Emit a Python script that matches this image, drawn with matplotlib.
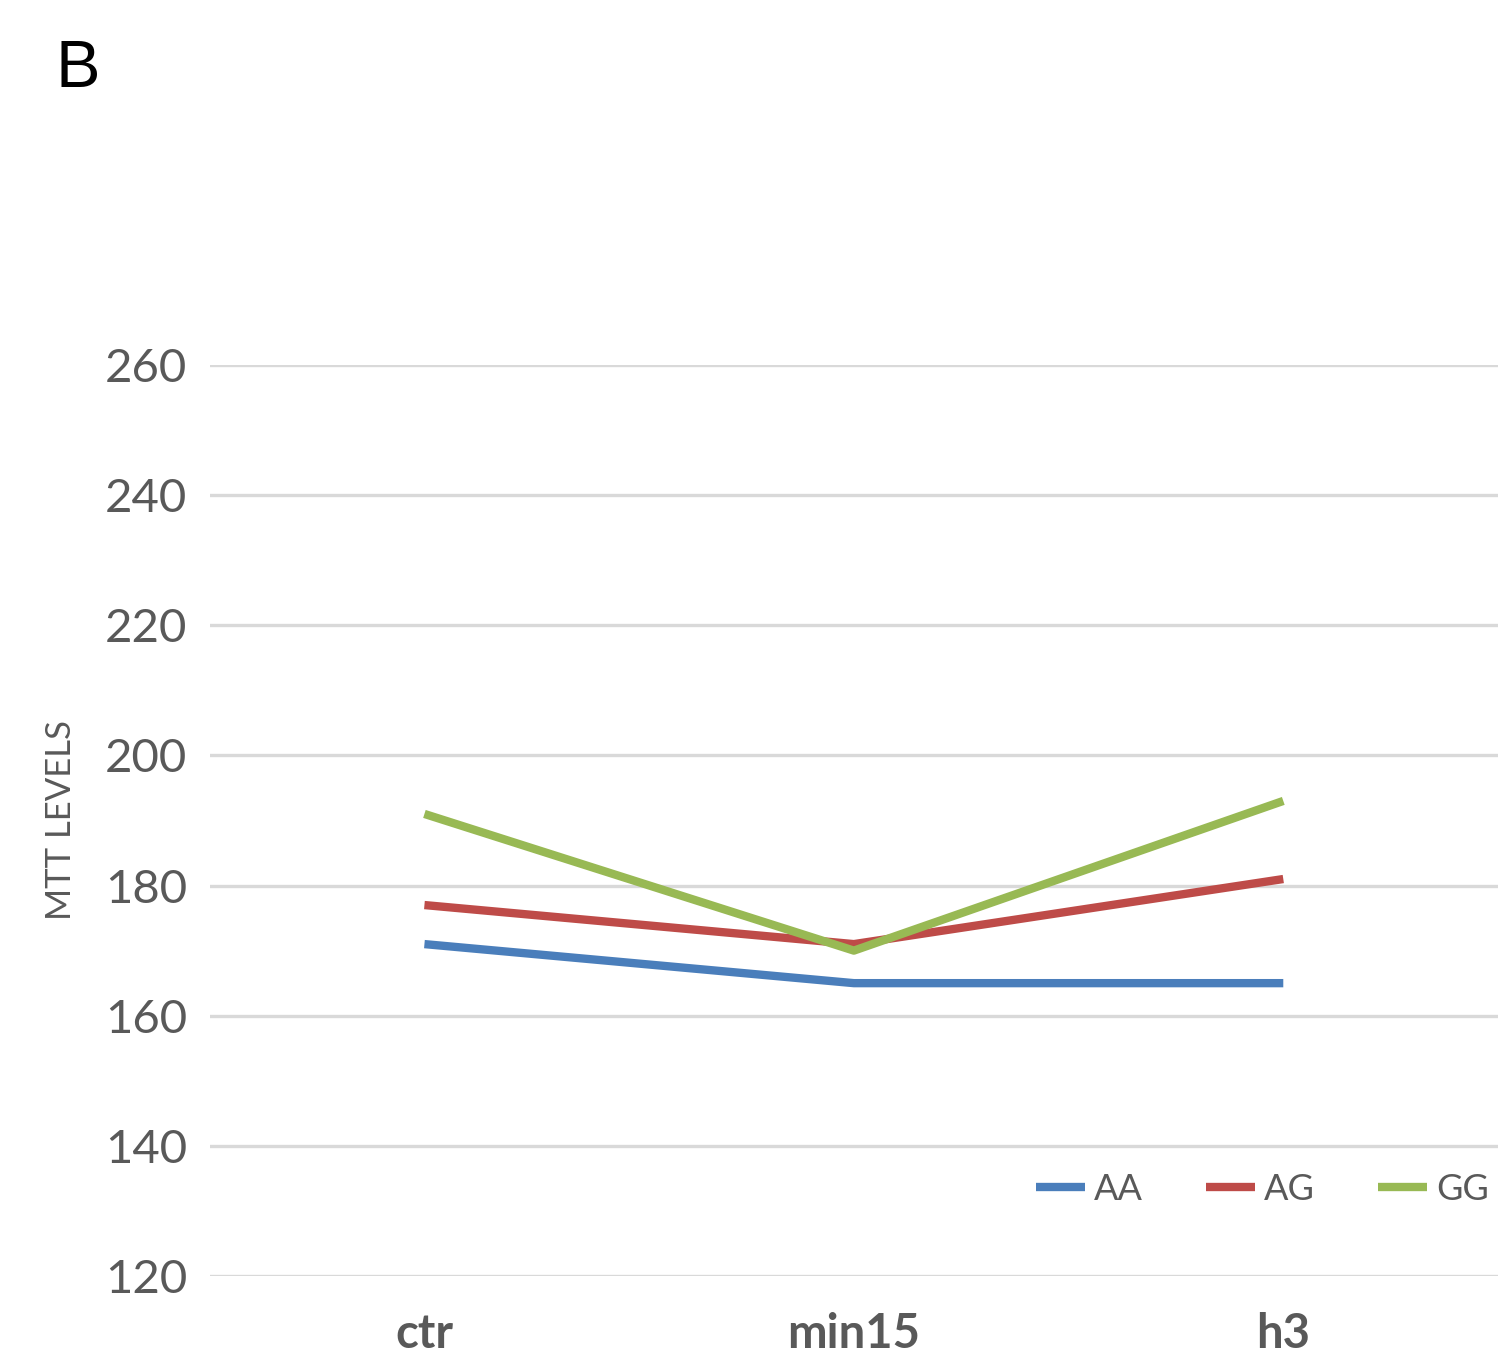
import matplotlib.pyplot as plt

# data
categories = ["ctr", "min15", "h3"]
aa = [171, 165, 165]
ag = [177, 171, 181]
gg = [191, 170, 193]
series_names = ["AA", "AG", "GG"]
colors = ["#4A7EBB", "#BE4B48", "#98B954"]
yticks = [120, 140, 160, 180, 200, 220, 240, 260]

plt.rcParams['font.family'] = ['Lato', 'DejaVu Sans']

fig = plt.figure(figsize=(14.98, 13.64), dpi=100)
ax = fig.add_axes([0.140, 0.0645, 0.860, 0.668])

x = [i + 0.5 for i in range(len(categories))]
for vals, name, col in zip([aa, ag, gg], series_names, colors):
    ax.plot(x, vals, color=col, lw=6, label=name, solid_capstyle='butt')

ax.set_xlim(0, 3)
ax.set_ylim(120, 260)
ax.set_yticks(yticks)
ax.set_xticks(x)
ax.set_xticklabels(categories, fontweight='bold')
ax.grid(axis='y', color='#D9D9D9', lw=2.4)
ax.set_axisbelow(True)
for s in ax.spines.values():
    s.set_visible(False)
ax.tick_params(axis='both', length=0, labelsize=34, colors='#595959')
ax.tick_params(axis='y', pad=16)
ax.tick_params(axis='x', pad=26)
ax.set_ylabel("MTT LEVELS", fontsize=25, color='#595959', labelpad=20)

leg = ax.legend(loc='center right', bbox_to_anchor=(1.004, 0.095), ncol=3,
                frameon=False, fontsize=26, handlelength=1.35,
                handletextpad=0.25, columnspacing=1.75, borderaxespad=0)
for t in leg.get_texts():
    t.set_color('#595959')

fig.text(0.037, 0.949, "B", fontsize=48, family='Liberation Sans', va='center')

fig.savefig("out.png", dpi=100)
